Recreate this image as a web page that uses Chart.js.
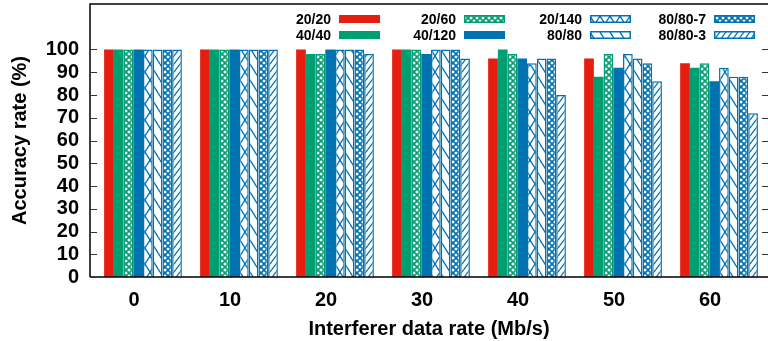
<!DOCTYPE html>
<html>
<head>
<meta charset="utf-8">
<script src="https://cdn.jsdelivr.net/npm/chart.js@4.4.1/dist/chart.umd.min.js"></script>
<style>
  body { margin: 0; background: #fff; }
  canvas { display: block; }
</style>
</head>
<body>
<canvas id="accChart" width="768" height="341"></canvas>
<script>
// interferer data rate (Mb/s)
const rates = [0, 10, 20, 30, 40, 50, 60];
const yTicks = [0, 10, 20, 30, 40, 50, 60, 70, 80, 90, 100];

const seriesNames = ['20/20', '40/40', '20/60', '40/120', '20/140', '80/80', '80/80-7', '80/80-3'];
const acc20_20  = [100, 100, 100, 100, 96, 96, 94];
const acc40_40  = [100, 100, 98, 100, 100, 88, 92];
const acc20_60  = [100, 100, 98, 100, 98, 98, 94];
const acc40_120 = [100, 100, 100, 98, 96, 92, 86];
const acc20_140 = [100, 100, 100, 100, 94, 98, 92];
const acc80_80  = [100, 100, 100, 100, 96, 96, 88];
const acc80_80_7 = [100, 100, 100, 100, 96, 94, 88];
const acc80_80_3 = [100, 100, 98, 96, 80, 86, 72];

const RED = '#e51e10', GREEN = '#009e73', BLUE = '#0072b2';

// small canvas tiles for the gnuplot-like fill patterns
function makePattern(color, kind) {
    const c = document.createElement('canvas');
    let w = 6, h = 6;
    if (kind === 'x' || kind === 'back') { w = 10; h = 16; }
    if (kind === 'fwd') { w = 6; h = 8; }
    c.width = w; c.height = h;
    const g = c.getContext('2d');
    g.fillStyle = '#fff';
    g.fillRect(0, 0, w, h);
    g.strokeStyle = color;
    g.lineWidth = kind === 'dense' ? 1.6 : 1.3;
    const line = (x1, y1, x2, y2) => {
        for (const dx of [-w, 0, w]) {
            g.beginPath();
            g.moveTo(x1 + dx, y1);
            g.lineTo(x2 + dx, y2);
            g.stroke();
        }
    };
    if (kind === 'dense' || kind === 'x') {
        line(0, 0, w, h);
        line(w, 0, 0, h);
    } else if (kind === 'back') {
        line(0, 0, w, h);
    } else if (kind === 'fwd') {
        line(0, h, w, 0);
    }
    return g.createPattern(c, 'repeat');
}

const styles = [
    { fill: RED, border: RED, bw: 0 },
    { fill: GREEN, border: GREEN, bw: 0 },
    { fill: makePattern(GREEN, 'dense'), border: GREEN, bw: 1.5 },
    { fill: BLUE, border: BLUE, bw: 0 },
    { fill: makePattern(BLUE, 'x'), border: BLUE, bw: 1.5 },
    { fill: makePattern(BLUE, 'back'), border: BLUE, bw: 1.5 },
    { fill: makePattern(BLUE, 'dense'), border: BLUE, bw: 1.5 },
    { fill: makePattern(BLUE, 'fwd'), border: BLUE, bw: 1.5 }
];
const allData = [acc20_20, acc40_40, acc20_60, acc40_120, acc20_140, acc80_80, acc80_80_7, acc80_80_3];

const datasets = allData.map((d, i) => ({
    label: seriesNames[i],
    data: d,
    backgroundColor: styles[i].fill,
    borderColor: styles[i].border,
    borderWidth: styles[i].bw,
    borderSkipped: 'bottom'
}));

const boldFont = { family: 'Liberation Sans, Arial, sans-serif', size: 20, weight: 'bold' };

// frame, inward ticks and the two-row key
const framePlugin = {
    id: 'frame',
    afterDraw(chart) {
        const ctx = chart.ctx;
        const a = chart.chartArea;
        const ys = chart.scales.y;
        ctx.save();
        ctx.strokeStyle = '#000';
        ctx.lineWidth = 1.5;
        ctx.beginPath();
        ctx.moveTo(a.left, a.bottom);
        ctx.lineTo(a.left, a.top);
        ctx.lineTo(a.right, a.top);
        ctx.moveTo(a.left, a.bottom);
        ctx.lineTo(a.right, a.bottom);
        ctx.stroke();
        ctx.lineWidth = 1;
        ctx.strokeStyle = '#333';
        yTicks.forEach(v => {
            const y = Math.round(ys.getPixelForValue(v)) + 0.5;
            ctx.beginPath();
            ctx.moveTo(a.left, y); ctx.lineTo(a.left + 7, y);
            ctx.moveTo(a.right - 6, y); ctx.lineTo(a.right, y);
            ctx.stroke();
        });

        const colX = [339, 464, 590, 714];
        const rowY = [19, 35];
        ctx.font = 'bold 14px Liberation Sans, Arial, sans-serif';
        ctx.textAlign = 'right';
        ctx.textBaseline = 'middle';
        chart.data.datasets.forEach((ds, i) => {
            const x = colX[Math.floor(i / 2)];
            const y = rowY[i % 2];
            ctx.fillStyle = '#000';
            ctx.fillText(ds.label, x - 8, y + 1);
            ctx.fillStyle = ds.backgroundColor;
            ctx.fillRect(x, y - 4, 41, 8);
            if (ds.borderWidth) {
                ctx.strokeStyle = ds.borderColor;
                ctx.lineWidth = 1.5;
                ctx.strokeRect(x + 0.75, y - 3.25, 39.5, 6.5);
            }
        });
        ctx.restore();
    }
};

new Chart(document.getElementById('accChart'), {
    type: 'bar',
    data: { labels: rates, datasets: datasets },
    options: {
        responsive: false,
        animation: false,
        layout: { padding: { top: 4, right: 0, left: 0, bottom: 0 } },
        datasets: { bar: { categoryPercentage: 0.81, barPercentage: 1.0 } },
        plugins: { legend: { display: false }, tooltip: { enabled: false } },
        scales: {
            x: {
                type: 'linear',
                offset: false,
                min: -5.52,
                max: 65.1,
                grid: { display: false, drawTicks: false },
                border: { display: false },
                afterBuildTicks(scale) { scale.ticks = rates.map(v => ({ value: v })); },
                afterFit(scale) { scale.height = 64; scale.paddingLeft = 0; scale.paddingRight = 0; },
                ticks: { color: '#000', font: boldFont, padding: 11, labelOffset: -9, maxRotation: 0, autoSkip: false },
                title: { display: true, text: 'Interferer data rate (Mb/s)', color: '#000', font: boldFont, padding: { top: 0, bottom: 0 } }
            },
            y: {
                min: 0,
                max: 120,
                grid: { display: false, drawTicks: false },
                border: { display: false },
                afterBuildTicks(scale) { scale.ticks = yTicks.map(v => ({ value: v })); },
                afterFit(scale) { scale.width = 90; scale.paddingTop = 0; scale.paddingBottom = 0; },
                ticks: { color: '#000', font: boldFont, padding: 11, autoSkip: false },
                title: { display: true, text: 'Accuracy rate (%)', color: '#000', font: boldFont, padding: { top: 8, bottom: 0 } }
            }
        }
    },
    plugins: [framePlugin]
});
</script>
</body>
</html>
